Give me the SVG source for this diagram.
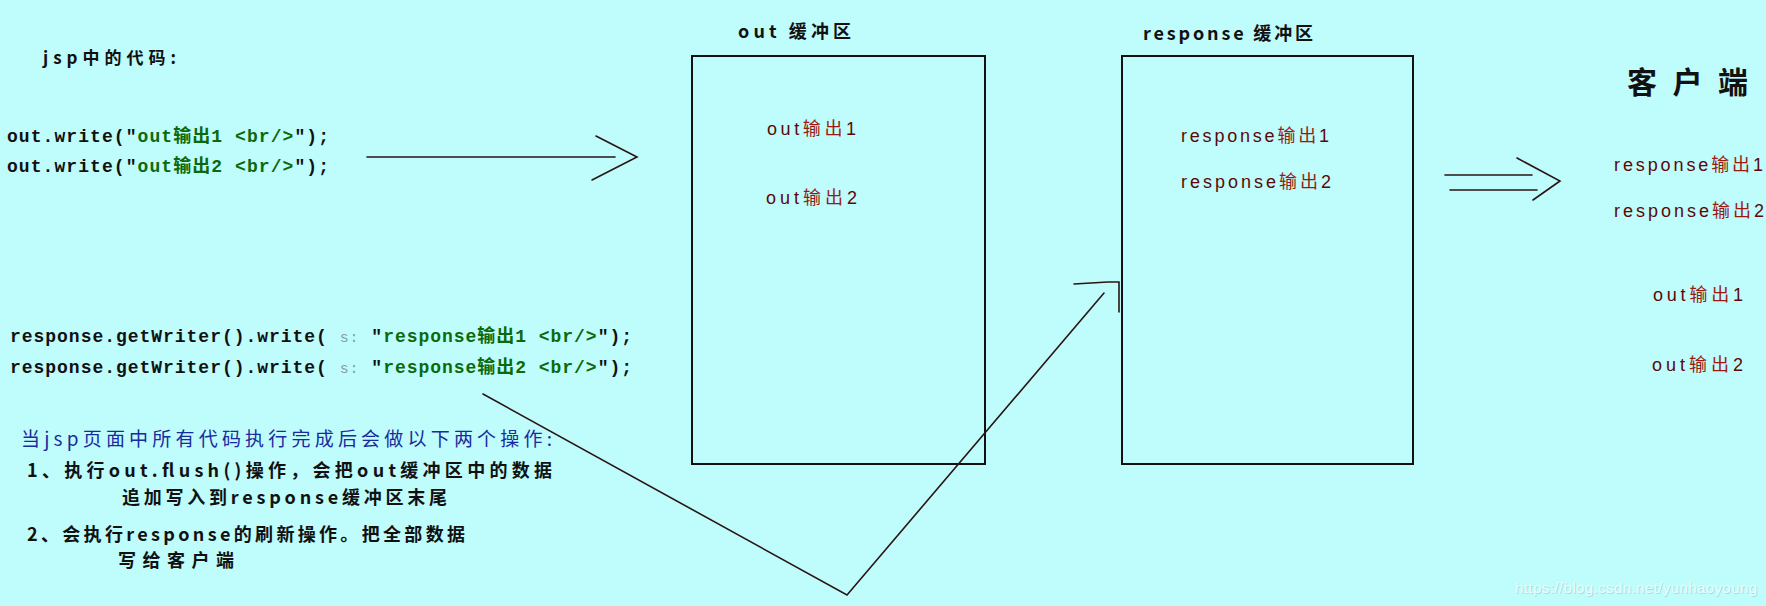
<svg xmlns="http://www.w3.org/2000/svg" width="1766" height="606" viewBox="0 0 1766 606">
<style>
.code{font-family:"Liberation Mono","Noto Sans CJK SC",monospace;font-size:18px;font-weight:bold;fill:#111}
.str{fill:#0b6a0b}
.hint{fill:#8a9c9c;font-weight:normal;font-size:15px}
.lbl{font-family:"Noto Sans CJK SC","Liberation Sans",sans-serif;font-weight:bold;fill:#111}
.out{font-family:"Liberation Sans","Noto Sans CJK SC",sans-serif;font-size:18px;fill:#5a0808}
.cn{fill:#9a1a10}
.blue{font-family:"Noto Sans CJK SC",sans-serif;font-size:19px;fill:#1a2b9c}
.exp{font-family:"Noto Sans CJK SC","Liberation Sans",sans-serif;font-size:18px;font-weight:bold;fill:#111}
.box{fill:none;stroke:#111;stroke-width:2}
.con{fill:none;stroke:#2a1414;stroke-width:1.6;stroke-linecap:round;stroke-linejoin:miter}
</style>
<rect width="1766" height="606" fill="#bffcfc"/>

<g id="code">
<text class="lbl" x="43" y="64" font-size="17" textLength="133">jsp中的代码:</text>
<text class="code" x="7" y="142" textLength="322">out.write("<tspan class="str">out输出1 &lt;br/&gt;</tspan>");</text>
<text class="code" x="7" y="172" textLength="322">out.write("<tspan class="str">out输出2 &lt;br/&gt;</tspan>");</text>
<text class="code" x="10" y="342" textLength="622">response.getWriter().write( <tspan class="hint">s:</tspan> "<tspan class="str">response输出1 &lt;br/&gt;</tspan>");</text>
<text class="code" x="10" y="373" textLength="622">response.getWriter().write( <tspan class="hint">s:</tspan> "<tspan class="str">response输出2 &lt;br/&gt;</tspan>");</text>
</g>

<g id="explanation">
<text class="blue" x="21" y="446" textLength="531">当jsp页面中所有代码执行完成后会做以下两个操作:</text>
<text class="exp" x="27" y="477" textLength="525">1、执行out.flush()操作，会把out缓冲区中的数据</text>
<text class="exp" x="122" y="504" textLength="325">追加写入到response缓冲区末尾</text>
<text class="exp" x="27" y="541" textLength="438">2、会执行response的刷新操作。把全部数据</text>
<text class="exp" x="118" y="567" textLength="116">写给客户端</text>
</g>

<g id="out-buffer">
<text class="lbl" x="738" y="38" font-size="18" textLength="113">out 缓冲区</text>
<rect class="box" x="692" y="56" width="293" height="408"/>
<text class="out" x="767" y="135" textLength="89">out<tspan class="cn">输出</tspan>1</text>
<text class="out" x="766" y="204" textLength="91">out<tspan class="cn">输出</tspan>2</text>
</g>

<g id="response-buffer">
<text class="lbl" x="1143" y="40" font-size="18" textLength="170">response 缓冲区</text>
<rect class="box" x="1122" y="56" width="291" height="408"/>
<text class="out" x="1181" y="142" textLength="148">response<tspan class="cn">输出</tspan>1</text>
<text class="out" x="1181" y="188" textLength="150">response<tspan class="cn">输出</tspan>2</text>
</g>

<g id="client">
<text class="lbl" x="1627" y="93" font-size="30" textLength="121">客户端</text>
<text class="out" x="1614" y="171" textLength="149">response<tspan class="cn">输出</tspan>1</text>
<text class="out" x="1614" y="217" textLength="150">response<tspan class="cn">输出</tspan>2</text>
<text class="out" x="1653" y="301" textLength="90">out<tspan class="cn">输出</tspan>1</text>
<text class="out" x="1652" y="371" textLength="91">out<tspan class="cn">输出</tspan>2</text>
</g>

<g id="connectors">
<line class="con" x1="367" y1="157" x2="615" y2="157"/>
<polyline class="con" points="596,136 637,157 592,180"/>
<line class="con" x1="1445" y1="175" x2="1532" y2="175"/>
<line class="con" x1="1450" y1="190" x2="1537" y2="190"/>
<polyline class="con" points="1517,158 1560,181 1533,200"/>
<polyline class="con" points="483,394 847,595 1104,293"/>
<polyline class="con" points="1074,284 1108,282 1119,282 1119,312"/>
</g>

<g id="watermark" font-family="'Liberation Sans',sans-serif" font-size="15">
<text x="1516" y="594" fill="#a6dede" textLength="242">https://blog.csdn.net/yunhaoyoung</text>
<text x="1515" y="593" fill="#eaffff" textLength="242">https://blog.csdn.net/yunhaoyoung</text>
</g>
</svg>
